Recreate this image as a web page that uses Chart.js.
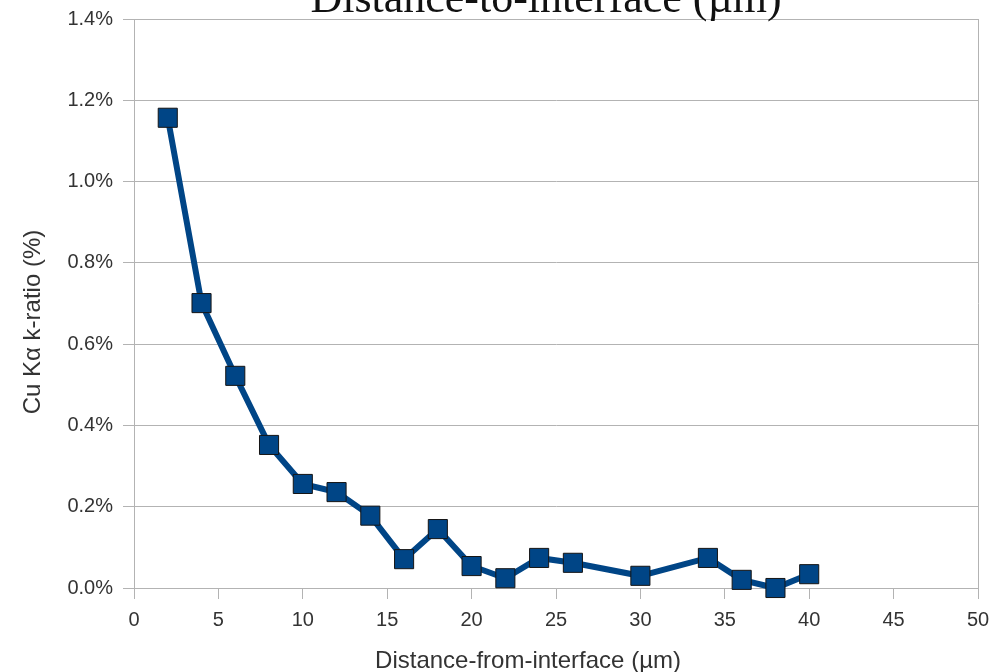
<!DOCTYPE html>
<html>
<head>
<meta charset="utf-8">
<script src="https://cdn.jsdelivr.net/npm/chart.js@4"></script>
<style>
  body { margin: 0; background: #fff; }
</style>
</head>
<body>
<canvas id="plot" width="993" height="672"></canvas>
<script>
// distance from interface (um) and Cu K-alpha k-ratio (%)
const distances = [2, 4, 6, 8, 10, 12, 14, 16, 18, 20, 22, 24, 26, 30, 34, 36, 38, 40];
const kRatios = [1.157, 0.701, 0.522, 0.352, 0.256, 0.236, 0.178, 0.071, 0.145, 0.054, 0.024, 0.074, 0.062, 0.030, 0.074, 0.020, 0.0, 0.034];

const chartTitle = 'Distance-to-interface (µm)';
const xTitle = 'Distance-from-interface (µm)';
const yTitle = 'Cu Kα k-ratio (%)';

const gridGray = '#b3b3b3';
const textGray = '#333333';

// titles are placed by hand, like the original sheet did
const titlesPlugin = {
    id: 'titles',
    afterDraw(chart) {
        const ctx = chart.ctx;
        ctx.save();
        ctx.fillStyle = '#111111';
        ctx.font = '44px "Liberation Serif"';
        ctx.textAlign = 'center';
        ctx.textBaseline = 'alphabetic';
        ctx.fillText(chartTitle, 546, 12);

        ctx.fillStyle = textGray;
        ctx.font = '24px "Liberation Sans"';
        ctx.fillText(xTitle, 528, 668);

        ctx.translate(33, 322);
        ctx.rotate(-Math.PI / 2);
        ctx.textBaseline = 'middle';
        ctx.fillText(yTitle, 0, 0);
        ctx.restore();
    }
};

const ctx = document.getElementById('plot').getContext('2d');
const myChart = new Chart(ctx, {
    type: 'line',
    data: {
        datasets: [{
            label: 'Cu Kα',
            data: distances.map((d, i) => ({ x: d, y: kRatios[i] })),
            borderColor: '#004586',
            borderWidth: 6,
            backgroundColor: '#004586',
            pointStyle: 'rect',
            pointRadius: 13.5,
            pointHoverRadius: 13.5,
            pointBackgroundColor: '#004586',
            pointBorderColor: '#151515',
            pointBorderWidth: 1,
            tension: 0,
            clip: false
        }]
    },
    options: {
        responsive: false,
        animation: false,
        devicePixelRatio: 1,
        layout: { padding: { top: 19, right: 15, left: 0, bottom: 0 } },
        plugins: {
            legend: { display: false },
            tooltip: { enabled: false }
        },
        scales: {
            x: {
                type: 'linear',
                min: 0,
                max: 50,
                afterFit: scale => {
                    scale.height = 84;
                    scale.paddingLeft = 0;
                    scale.paddingRight = 0;
                },
                ticks: {
                    stepSize: 5,
                    padding: 9,
                    color: textGray,
                    font: { family: '"Liberation Sans"', size: 20 }
                },
                grid: {
                    color: c => (c.tick && c.tick.value === 50) ? gridGray : 'rgba(0,0,0,0)',
                    tickColor: gridGray,
                    tickLength: 11,
                    lineWidth: 1
                },
                border: { color: gridGray, width: 1 }
            },
            y: {
                min: 0,
                max: 1.4,
                afterFit: scale => {
                    scale.width = 134;
                    scale.paddingTop = 0;
                    scale.paddingBottom = 0;
                },
                ticks: {
                    stepSize: 0.2,
                    padding: 10,
                    color: textGray,
                    font: { family: '"Liberation Sans"', size: 20 },
                    callback: v => v.toFixed(1) + '%'
                },
                grid: {
                    color: gridGray,
                    tickColor: gridGray,
                    tickLength: 11,
                    lineWidth: 1
                },
                border: { color: gridGray, width: 1 }
            }
        }
    },
    plugins: [titlesPlugin]
});
</script>
</body>
</html>
